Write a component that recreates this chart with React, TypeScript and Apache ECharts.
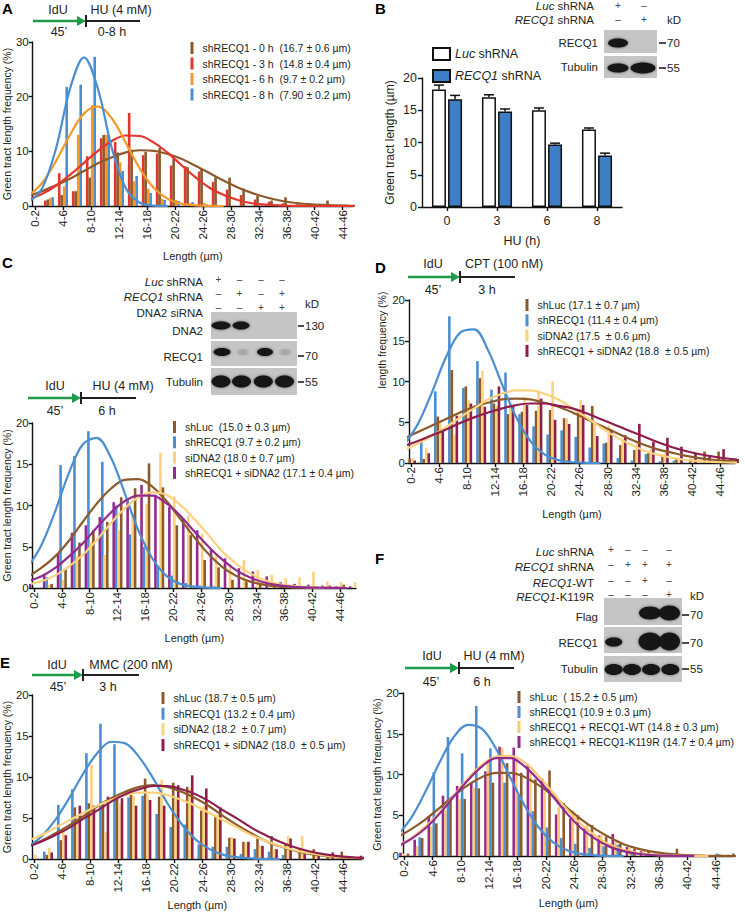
import React, { useEffect, useRef } from 'react';
import * as echarts from 'echarts';

const FONT = '"Liberation Sans", Arial, Helvetica, sans-serif';
const INK = '#231f20';
const BROWN = '#8c5a2b';
const RED = '#e2372d';
const ORANGE = '#f49a2c';
const BLUE = '#4b8fd1';
const PALE = '#fcd27f';
const PALE_F = '#fbc878';
const PURPLE = '#922b8f';
const MAROON = '#8d1e4e';
const GREEN = '#1e9a4b';
const BLOT = '#c5c5c5';

// ---------- shared histogram bins ----------
const binLabels = ['0-2', '2-4', '4-6', '6-8', '8-10', '10-12', '12-14', '14-16', '16-18', '18-20', '20-22', '22-24',
  '24-26', '26-28', '28-30', '30-32', '32-34', '34-36', '36-38', '38-40', '40-42', '42-44', '44-46', '46-48'];
const binCenters = [1, 3, 5, 7, 9, 11, 13, 15, 17, 19, 21, 23, 25, 27, 29, 31, 33, 35, 37, 39, 41, 43, 45, 47];
const labelledBins = [1, 5, 9, 13, 17, 21, 25, 29, 33, 37, 41, 45];
const fitX = [0, 2, 4, 6, 8, 10, 12, 14, 16, 18, 20, 22, 24, 26, 28, 30, 32, 34, 36, 38, 40, 42, 44, 46, 48];

// ---------- Panel A ----------
const aNames = ['shRECQ1 - 0 h  (16.7 ± 0.6 µm)', 'shRECQ1 - 3 h  (14.8 ± 0.4 µm)', 'shRECQ1 - 6 h  (9.7 ± 0.2 µm)', 'shRECQ1 - 8 h  (7.90 ± 0.2 µm)'];
const a0h = [0, 1.2, 2.0, 2.7, 5.2, 13.0, 9.8, 10.3, 9.9, 10.6, 9.0, 7.1, 6.8, 5.4, 5.2, 3.2, 1.9, 1.0, 1.6, 0.3, 0.2, 1.0, 0, 0];
const a3h = [0, 1.0, 6.0, 2.7, 9.1, 12.4, 11.7, 17.0, 9.3, 9.6, 7.4, 7.3, 6.3, 4.4, 3.0, 2.0, 1.2, 0.8, 0.5, 0.3, 0, 0, 0, 0];
const a6h = [0, 1.5, 3.6, 13.0, 18.5, 13.0, 8.0, 4.5, 3.2, 1.3, 1.1, 0.5, 0.6, 0.2, 0, 0, 0, 0, 0, 0, 0, 0, 0, 0];
const a8h = [0, 1.6, 21.8, 22.2, 27.3, 13.0, 6.4, 5.5, 2.4, 1.1, 0.9, 0.7, 0.3, 0, 0, 0, 0, 0, 0, 0, 0, 0, 0, 0];
const a0hFit = [1.8, 2.7, 3.8, 5.0, 6.4, 7.8, 8.9, 9.8, 10.2, 10.1, 9.5, 8.6, 7.3, 6.0, 4.6, 3.4, 2.4, 1.6, 1.0, 0.6, 0.36, 0.2, 0.1, 0.05, 0.02];
const a3hFit = [1.2, 2.2, 3.7, 5.7, 7.9, 10.1, 11.9, 12.9, 12.8, 11.6, 9.7, 7.4, 5.2, 3.3, 2.0, 1.1, 0.5, 0.25, 0.1, 0.04, 0.01, 0, 0, 0, 0];
const a6hFit = [1.8, 4.2, 8.2, 13.0, 16.9, 18.2, 16.0, 11.5, 6.8, 3.3, 1.3, 0.4, 0.12, 0.03, 0];
const a8hFit = [0.6, 3.2, 10.5, 21.4, 27.2, 21.4, 10.5, 3.2, 0.6, 0.07, 0];

// ---------- Panel B ----------
const bHours = ['0', '3', '6', '8'];
const bLuc = [18.2, 17.0, 15.0, 12.0];
const bLucErr = [0.7, 0.4, 0.35, 0.25];
const bRecq = [16.7, 14.8, 9.7, 8.0];
const bRecqErr = [0.6, 0.4, 0.2, 0.35];

// ---------- Panel C ----------
const cNames = ['shLuc  (15.0 ± 0.3 µm)', 'shRECQ1 (9.7 ± 0.2 µm)', 'siDNA2 (18.0 ± 0.7 µm)', 'shRECQ1 + siDNA2 (17.1 ± 0.4 µm)'];
const cLuc = [0, 0.5, 2.3, 5.5, 7.0, 8.0, 11.0, 12.1, 15.1, 12.2, 7.6, 6.4, 3.4, 2.5, 1.0, 0.8, 0.6, 0.3, 0.4, 0.2, 0.1, 0.3, 0.4, 0];
const cRecq = [0, 1.3, 14.9, 16.0, 19.0, 15.3, 10.0, 6.5, 5.0, 2.7, 1.5, 0.6, 0.3, 0.2, 0, 0, 0.1, 0, 0, 0, 0, 0, 0, 0];
const cDna2 = [0, 0.4, 1.0, 3.9, 5.6, 4.0, 7.0, 9.0, 10.2, 16.4, 11.1, 8.8, 6.6, 4.2, 2.9, 3.4, 2.2, 1.6, 1.2, 1.3, 2.0, 0.8, 0.7, 0.7];
const cBoth = [0.5, 1.6, 4.2, 6.7, 7.6, 8.6, 10.4, 10.6, 12.5, 11.3, 9.8, 8.4, 7.0, 4.6, 3.6, 2.4, 2.0, 1.4, 0.7, 0.5, 0.4, 0.3, 0.2, 0.2];
const cLucFit = [1.3, 2.4, 3.8, 5.7, 8.0, 10.2, 12.0, 13.1, 13.2, 12.3, 10.6, 8.4, 6.2, 4.2, 2.6, 1.5, 0.8, 0.4, 0.18, 0.08, 0.03, 0.01, 0];
const cRecqFit = [2.4, 5.1, 9.2, 13.9, 17.4, 18.2, 15.9, 11.6, 7.0, 3.6, 1.5, 0.5, 0.16, 0.04, 0];
const cDna2Fit = [0.4, 0.8, 1.5, 2.6, 4.0, 5.8, 7.8, 9.6, 11.0, 11.6, 11.3, 10.1, 8.4, 6.5, 4.5, 3.0, 1.8, 1.0, 0.5, 0.25, 0.11, 0.04, 0.02, 0.01];
const cBothFit = [0.8, 1.4, 2.4, 3.8, 5.4, 7.3, 9.1, 10.5, 11.2, 11.2, 10.3, 8.8, 6.9, 5.1, 3.5, 2.2, 1.3, 0.7, 0.35, 0.17, 0.07, 0.03, 0.01, 0];

// ---------- Panel D ----------
const dNames = ['shLuc (17.1 ± 0.7 µm)', 'shRECQ1 (11.4 ± 0.4 µm)', 'siDNA2 (17.5  ± 0.6 µm)', 'shRECQ1 + siDNA2 (18.8  ± 0.5 µm)'];
const dLuc = [0.5, 0.5, 5.7, 11.4, 9.4, 10.4, 7.3, 6.0, 6.3, 6.4, 6.5, 5.5, 6.4, 7.0, 2.5, 2.2, 1.6, 1.2, 1.0, 0.6, 0.5, 1.4, 1.4, 0.3];
const dRecq = [0, 2.6, 8.8, 18.0, 9.2, 12.5, 9.0, 11.1, 6.0, 4.5, 3.5, 4.0, 3.2, 1.9, 2.4, 0.6, 0.3, 1.1, 0.2, 0.3, 0, 0, 0, 0];
const dDna2 = [0.6, 1.8, 5.0, 3.5, 7.7, 11.3, 7.0, 7.5, 8.1, 8.9, 10.0, 5.5, 7.7, 5.0, 4.6, 3.0, 2.6, 1.7, 1.2, 0.5, 0.4, 0.3, 0.2, 0.6];
const dBoth = [0.3, 1.2, 4.0, 5.8, 7.3, 6.9, 9.4, 7.0, 7.1, 7.9, 5.3, 4.8, 7.1, 3.3, 4.1, 3.4, 4.8, 2.6, 3.1, 2.0, 1.2, 0.8, 1.7, 0.5];
const dLucFit = [3.0, 3.8, 4.6, 5.4, 6.2, 6.9, 7.4, 7.8, 7.9, 7.8, 7.4, 6.9, 6.2, 5.4, 4.6, 3.8, 3.0, 2.3, 1.7, 1.3, 0.9, 0.6, 0.4, 0.26, 0.17];
const dRecqFit = [2.2, 4.8, 8.7, 13.0, 16.0, 16.4, 13.8, 9.6, 5.6, 2.7, 1.05, 0.35, 0.09, 0.02, 0];
const dDna2Fit = [1.6, 2.4, 3.3, 4.4, 5.6, 6.7, 7.8, 8.5, 8.9, 8.9, 8.5, 7.8, 6.7, 5.6, 4.4, 3.3, 2.4, 1.6, 1.06, 0.67, 0.4, 0.22, 0.12, 0.06, 0.03];
const dBothFit = [2.1, 2.7, 3.4, 4.1, 4.9, 5.6, 6.2, 6.7, 7.1, 7.3, 7.3, 7.0, 6.7, 6.1, 5.4, 4.7, 4.0, 3.3, 2.6, 2.0, 1.5, 1.1, 0.8, 0.55, 0.38];

// ---------- Panel E ----------
const eNames = ['shLuc (18.7 ± 0.5 µm)', 'shRECQ1 (13.2 ± 0.4 µm)', 'siDNA2 (18.2  ± 0.7 µm)', 'shRECQ1 + siDNA2 (18.0  ± 0.5 µm)'];
const eLuc = [0, 0.5, 2.3, 6.3, 6.8, 7.0, 7.3, 7.8, 9.8, 7.6, 9.3, 8.8, 5.9, 5.1, 2.6, 2.1, 2.7, 2.8, 1.9, 1.3, 1.2, 0.5, 0.9, 0.2];
const eRecq = [0, 0.9, 6.6, 8.5, 12.9, 16.5, 14.0, 7.5, 7.7, 5.5, 3.9, 4.2, 1.8, 1.5, 1.5, 0.6, 1.2, 0.9, 0.5, 0, 0, 0, 0, 0];
const eDna2 = [0.5, 1.4, 3.8, 5.0, 11.5, 3.3, 6.8, 7.7, 7.8, 9.7, 7.5, 8.6, 6.5, 5.5, 2.7, 2.0, 1.6, 1.2, 2.8, 2.8, 0.8, 0.4, 0.3, 0.2];
const eBoth = [0, 0.8, 2.9, 6.5, 6.5, 7.6, 7.4, 6.5, 7.2, 6.5, 9.0, 10.2, 8.6, 6.3, 2.5, 2.1, 1.6, 1.2, 2.5, 0.6, 0.4, 0.8, 0.2, 0.4];
const eLucFit = [1.55, 2.2, 3.1, 4.1, 5.2, 6.4, 7.4, 8.2, 8.8, 9.0, 8.8, 8.2, 7.4, 6.4, 5.2, 4.1, 3.1, 2.2, 1.55, 1.04, 0.66, 0.4, 0.23, 0.13, 0.07];
const eRecqFit = [1.4, 2.7, 4.7, 7.4, 10.4, 12.9, 14.3, 14.1, 12.4, 9.8, 6.8, 4.3, 2.4, 1.2, 0.5, 0.2, 0.07, 0.02, 0];
const eDna2Fit = [2.2, 2.9, 3.8, 4.7, 5.6, 6.5, 7.2, 7.8, 8.1, 8.1, 7.8, 7.2, 6.5, 5.6, 4.7, 3.8, 2.9, 2.2, 1.6, 1.1, 0.74, 0.48, 0.3, 0.18, 0.1];
const eBothFit = [1.46, 2.1, 2.9, 3.8, 4.9, 5.9, 7.0, 7.9, 8.5, 8.9, 8.9, 8.5, 7.9, 7.0, 5.9, 4.9, 3.8, 2.9, 2.1, 1.46, 0.98, 0.63, 0.39, 0.23, 0.13];

// ---------- Panel F ----------
const fNames = ['shLuc  ( 15.2 ± 0.5 µm)', 'shRECQ1 (10.9 ± 0.3 µm)', 'shRECQ1 + RECQ1-WT (14.8 ± 0.3 µm)', 'shRECQ1 + RECQ1-K119R (14.7 ± 0.4 µm)'];
const fLuc = [0.3, 2.2, 4.0, 6.8, 7.0, 8.3, 9.0, 11.4, 10.2, 9.4, 10.5, 6.5, 5.0, 3.8, 2.4, 1.5, 0.9, 0.6, 0.4, 0.9, 0.2, 0.1, 0.2, 0.3];
const fRecq = [0, 2.3, 10.3, 14.6, 12.6, 18.4, 13.2, 9.0, 7.5, 5.5, 3.5, 2.2, 1.5, 1.0, 1.2, 1.4, 0.4, 0.2, 0, 0, 0, 0, 0.3, 0];
const fWt = [0.3, 1.2, 3.6, 5.6, 7.0, 8.4, 11.5, 13.3, 12.0, 10.4, 7.9, 6.0, 5.6, 3.9, 2.6, 1.7, 1.0, 0.8, 0.3, 0.2, 0, 0.2, 0, 0];
const fK119R = [0.4, 2.0, 4.9, 7.4, 8.6, 9.0, 10.4, 13.4, 13.3, 11.2, 9.5, 5.1, 4.6, 3.4, 2.5, 2.7, 1.1, 0.6, 0.3, 0.2, 0, 0, 0, 0];
const fLucFit = [2.3, 3.3, 4.5, 5.9, 7.4, 8.7, 9.7, 10.2, 10.2, 9.7, 8.7, 7.4, 5.9, 4.5, 3.3, 2.3, 1.45, 0.9, 0.53, 0.29, 0.15, 0.07, 0.03, 0.01, 0];
const fRecqFit = [2.5, 4.7, 7.9, 11.5, 14.6, 16.1, 15.6, 13.1, 9.6, 6.2, 3.5, 1.7, 0.7, 0.26, 0.08, 0.02, 0];
const fWtFit = [1.25, 2.2, 3.6, 5.3, 7.4, 9.5, 11.2, 12.2, 12.3, 11.5, 9.8, 7.8, 5.7, 3.9, 2.5, 1.4, 0.75, 0.37, 0.17, 0.07, 0.03, 0.01, 0];
const fK119RFit = [1.15, 2.1, 3.4, 5.2, 7.3, 9.3, 11.0, 12.0, 12.0, 11.0, 9.3, 7.3, 5.2, 3.4, 2.1, 1.15, 0.6, 0.28, 0.12, 0.05, 0.02, 0];

type Hist = {
  left: number; top: number; width: number; height: number;
  xMin: number; xMax: number; yMax: number; yStep: number;
  yTitle: string; yGap: number; xGap: number;
  names: string[]; colors: string[]; bars: number[][]; fits: number[][]; order: number[];
  legLeft: number; legTop: number; legGap: number;
};

const YT = 'Green tract length frequency (%)';

const hists: Hist[] = [
  { left: 31, top: 42, width: 322, height: 164, xMin: 0.67, xMax: 46.47, yMax: 30, yStep: 10, yTitle: YT, yGap: 18.5, xGap: 44,
    names: aNames, colors: [BROWN, RED, ORANGE, BLUE], bars: [a0h, a3h, a6h, a8h], fits: [a0hFit, a3hFit, a6hFit, a8hFit],
    order: [1, 0, 2, 3], legLeft: 190.5, legTop: 42, legGap: 3.5 },
  { left: 31, top: 423, width: 325, height: 165, xMin: 0.81, xMax: 47.3, yMax: 20, yStep: 5, yTitle: YT, yGap: 18.5, xGap: 44,
    names: cNames, colors: [BROWN, BLUE, PALE, PURPLE], bars: [cLuc, cRecq, cDna2, cBoth], fits: [cLucFit, cRecqFit, cDna2Fit, cBothFit],
    order: [3, 1, 2, 0], legLeft: 173, legTop: 421, legGap: 3.3 },
  { left: 409, top: 300, width: 326, height: 163, xMin: 0.72, xMax: 47.16, yMax: 20, yStep: 5, yTitle: '', yGap: 18, xGap: 45,
    names: dNames, colors: [BROWN, BLUE, PALE, MAROON], bars: [dLuc, dRecq, dDna2, dBoth], fits: [dLucFit, dRecqFit, dDna2Fit, dBothFit],
    order: [1, 0, 2, 3], legLeft: 525.5, legTop: 299, legGap: 3.3 },
  { left: 31, top: 695, width: 331, height: 164, xMin: 0.82, xMax: 47.7, yMax: 20, yStep: 5, yTitle: YT, yGap: 17.5, xGap: 40,
    names: eNames, colors: [BROWN, BLUE, PALE, MAROON], bars: [eLuc, eRecq, eDna2, eBoth], fits: [eLucFit, eRecqFit, eDna2Fit, eBothFit],
    order: [1, 0, 2, 3], legLeft: 161.5, legTop: 692, legGap: 3.7 },
  { left: 403, top: 693, width: 331, height: 163, xMin: 0.82, xMax: 47.6, yMax: 20, yStep: 5, yTitle: YT, yGap: 16.5, xGap: 41,
    names: fNames, colors: [BROWN, BLUE, PALE_F, PURPLE], bars: [fLuc, fRecq, fWt, fK119R], fits: [fLucFit, fRecqFit, fWtFit, fK119RFit],
    order: [3, 2, 1, 0], legLeft: 517.5, legTop: 691, legGap: 3 },
];

// ---------- graphic helpers ----------
function txt(x: number, y: number, text: string, o: any = {}) {
  const size = o.size ?? 11.5;
  return {
    type: 'text', x, y, rotation: o.rot ?? 0, silent: true, z: 10,
    style: {
      text, fontSize: size, fontFamily: FONT, fill: o.color ?? INK,
      fontWeight: o.weight ?? 'normal', fontStyle: o.italic ? 'italic' : 'normal',
      align: o.align ?? 'center', verticalAlign: o.va ?? 'middle',
      rich: { i: { fontStyle: 'italic', fontSize: size, fontFamily: FONT, fill: o.color ?? INK } },
    },
  };
}
function ln(x1: number, y1: number, x2: number, y2: number, stroke = INK, w = 1.6) {
  return { type: 'line', silent: true, z: 10, shape: { x1, y1, x2, y2 }, style: { stroke, lineWidth: w } };
}
function box(x: number, y: number, width: number, height: number, fill = BLOT) {
  return { type: 'rect', silent: true, z: 9, shape: { x, y, width, height }, style: { fill } };
}
function band(cx: number, cy: number, rx: number, ry: number, fill = '#151515') {
  return { type: 'ellipse', silent: true, z: 10, shape: { cx, cy, rx, ry }, style: { fill, shadowBlur: 3, shadowColor: 'rgba(0,0,0,0.55)' } };
}
function timeline(x0: number, xm: number, x1: number, y: number, texts: [number, number, string][]) {
  const els: any[] = [
    ln(x0, y, xm - 7, y, GREEN, 2.3),
    { type: 'polygon', silent: true, z: 10, shape: { points: [[xm - 9, y - 5], [xm, y], [xm - 9, y + 5]] }, style: { fill: GREEN } },
    ln(xm, y - 6, xm, y + 6, INK, 2),
    ln(xm, y, x1, y, INK, 2),
  ];
  texts.forEach(([x, yy, t]) => els.push(txt(x, yy, t, { size: 12.5 })));
  return els;
}
function signs(xs: number[], y: number, s: string) {
  return xs.map((x, i) => txt(x, y, s[i] === '+' ? '+' : '–', { size: 10, color: '#444' }));
}

function buildGraphics() {
  const g: any[] = [];
  // panel letters
  [['A', 2, 1], ['B', 375, 1], ['C', 2, 255], ['D', 375, 260], ['E', 0, 655], ['F', 375, 551]].forEach(([t, x, y]) =>
    g.push(txt(x as number, y as number, t as string, { size: 15, weight: 'bold', align: 'left', va: 'top', color: '#000' })));

  // timelines
  g.push(...timeline(33, 86, 140, 21, [[58, 10, 'IdU'], [121, 10, 'HU (4 mM)'], [59, 32, '45’'], [112, 32, '0-8 h']]));
  g.push(...timeline(28, 81, 136, 398, [[55, 386, 'IdU'], [123, 386, 'HU (4 mM)'], [55, 411, '45’'], [107, 411, '6 h']]));
  g.push(...timeline(408, 460, 515, 277, [[433, 264, 'IdU'], [504, 264, 'CPT (100 nM)'], [433, 290, '45’'], [487, 290, '3 h']]));
  g.push(...timeline(32, 83, 139, 675, [[57, 665, 'IdU'], [131, 665, 'MMC (200 nM)'], [58, 687, '45’'], [108, 687, '3 h']]));
  g.push(...timeline(405, 459, 514, 668, [[432, 656, 'IdU'], [494, 656, 'HU (4 mM)'], [431, 682, '45’'], [482, 682, '6 h']]));

  // D y title (partly hidden in the original)
  g.push(txt(382, 340, 'length frequency (%)', { size: 10.5, rot: Math.PI / 2 }));

  // ---- Blot B ----
  g.push(txt(594, 6, '{i|Luc} shRNA', { align: 'right' }));
  g.push(txt(594, 20, '{i|RECQ1} shRNA', { align: 'right' }));
  g.push(...signs([618, 644], 5, '+-'), ...signs([618, 644], 19, '-+'));
  g.push(txt(674, 20, 'kD'));
  g.push(box(604, 30, 53, 23), box(604, 56, 53, 22));
  g.push(band(618, 43, 10, 4.6), band(618, 68, 10.5, 4.6), band(643, 68, 12.5, 5.5));
  g.push(ln(659, 43, 666, 43), ln(659, 68, 666, 68));
  g.push(txt(667, 43, '70', { align: 'left' }), txt(667, 68, '55', { align: 'left' }));
  g.push(txt(598, 43, 'RECQ1', { align: 'right' }), txt(598, 67, 'Tubulin', { align: 'right' }));

  // ---- Blot C ----
  const cLanes = [218.5, 239.5, 261, 282];
  g.push(txt(203, 282, '{i|Luc} shRNA', { align: 'right' }));
  g.push(txt(203, 297, '{i|RECQ1} shRNA', { align: 'right' }));
  g.push(txt(203, 313, 'DNA2 siRNA', { align: 'right' }));
  g.push(...signs(cLanes, 279, '+---'), ...signs(cLanes, 293, '-+-+'), ...signs(cLanes, 307, '--++'));
  g.push(txt(312, 304, 'kD'));
  g.push(box(211, 312, 86, 27), box(211, 341, 86, 25), box(211, 368, 86, 27));
  g.push(band(221, 325.5, 9.5, 4), band(241, 325.5, 8.5, 4));
  g.push(band(222, 352, 8.5, 4), band(265, 352, 8, 4), band(243, 352, 5, 1.6, '#a9a9a9'), band(285, 352, 5, 1.6, '#a9a9a9'));
  g.push(band(221, 381.5, 9.5, 6), band(241.5, 381.5, 9.5, 6), band(263.3, 381.5, 9.5, 6), band(284.5, 381.5, 9.5, 6));
  g.push(ln(298, 326, 304, 326), ln(298, 356, 304, 356), ln(298, 382, 304, 382));
  g.push(txt(305, 326, '130', { align: 'left' }), txt(305, 356, '70', { align: 'left' }), txt(305, 382, '55', { align: 'left' }));
  g.push(txt(203, 331, 'DNA2', { align: 'right' }), txt(203, 357, 'RECQ1', { align: 'right' }), txt(203, 382, 'Tubulin', { align: 'right' }));

  // ---- Blot F ----
  const fLanes = [611, 628, 645, 669];
  g.push(txt(594, 552, '{i|Luc} shRNA', { align: 'right' }));
  g.push(txt(594, 567, '{i|RECQ1} shRNA', { align: 'right' }));
  g.push(txt(594, 583, '{i|RECQ1}-WT', { align: 'right' }));
  g.push(txt(594, 597, '{i|RECQ1}-K119R', { align: 'right' }));
  g.push(...signs(fLanes, 549, '+---'), ...signs(fLanes, 564, '-+++'), ...signs(fLanes, 580, '--+-'), ...signs(fLanes, 594, '---+'));
  g.push(txt(697, 596, 'kD'));
  g.push(box(604, 598, 78, 27), box(604, 627, 78, 26), box(604, 656, 78, 26));
  g.push(band(650, 613, 11, 6.5), band(669.5, 613, 10.5, 7.5));
  g.push(band(613.7, 642, 8.5, 4.5), band(650, 641.5, 11.5, 9), band(669.5, 641.5, 10.5, 9));
  g.push(band(613.7, 669.5, 9, 5.5), band(632, 669.5, 9, 5.5), band(651, 669.5, 9, 5.5), band(670.3, 669.5, 9, 5.5));
  g.push(ln(682, 615, 689, 615), ln(682, 643, 689, 643), ln(682, 669, 689, 669));
  g.push(txt(690, 615, '70', { align: 'left' }), txt(690, 643, '70', { align: 'left' }), txt(690, 669, '55', { align: 'left' }));
  g.push(txt(598, 617, 'Flag', { align: 'right' }), txt(598, 643, 'RECQ1', { align: 'right' }), txt(598, 669, 'Tubulin', { align: 'right' }));
  return g;
}

function buildOption() {
  const grid: any[] = [];
  const xAxis: any[] = [];
  const yAxis: any[] = [];
  const series: any[] = [];
  const legend: any[] = [];
  const axisLine = { color: '#111', width: 1.4 };
  const lab = (size: number) => ({ fontSize: size, fontFamily: FONT, color: INK });

  hists.forEach((p) => {
    const gi = grid.length;
    grid.push({ left: p.left, top: p.top, width: p.width, height: p.height });
    xAxis.push({
      gridIndex: gi, type: 'value', min: p.xMin, max: p.xMax,
      axisLine: { show: true, onZero: false, lineStyle: axisLine },
      splitLine: { show: false },
      axisTick: { show: true, length: 4, customValues: labelledBins, lineStyle: axisLine },
      axisLabel: {
        ...lab(11.5), rotate: 90, margin: 4, customValues: labelledBins,
        formatter: (v: number) => binLabels[Math.round((v - 1) / 2)],
      },
      name: 'Length (µm)', nameLocation: 'middle', nameGap: p.xGap, nameTextStyle: lab(11),
    });
    yAxis.push({
      gridIndex: gi, type: 'value', min: 0, max: p.yMax, interval: p.yStep,
      axisLine: { show: true, lineStyle: axisLine },
      axisTick: { show: true, length: 4, lineStyle: axisLine },
      axisLabel: { ...lab(11.5), margin: 4 },
      splitLine: { show: false },
      name: p.yTitle, nameLocation: 'middle', nameGap: p.yGap, nameTextStyle: lab(10.5),
    });
    p.order.forEach((i) => series.push({
      type: 'bar', name: p.names[i], xAxisIndex: gi, yAxisIndex: gi,
      barWidth: 2.6, barGap: '-4%', silent: true, z: 2,
      data: p.bars[i].map((v, k) => [binCenters[k], v]),
      itemStyle: { color: p.colors[i] },
    }));
    p.names.forEach((n, i) => series.push({
      type: 'line', name: n + ' fit', xAxisIndex: gi, yAxisIndex: gi,
      data: p.fits[i].map((v, k) => [fitX[k], v]),
      smooth: 0.35, symbol: 'none', showSymbol: false, silent: true, z: 4,
      lineStyle: { color: p.colors[i], width: 2.2 }, itemStyle: { color: p.colors[i] },
    }));
    legend.push({
      left: p.legLeft, top: p.legTop, orient: 'vertical', padding: 0,
      itemWidth: 3, itemHeight: 12, itemGap: p.legGap, icon: 'rect', selectedMode: false,
      data: p.names,
      textStyle: { ...lab(10.5), lineHeight: 12, padding: [0, 0, 0, 4] },
    });
  });

  // ---- Panel B ----
  const bi = grid.length;
  const BW = 14;
  const GAP = 0.15;
  const OFF = (BW + BW * GAP) / 2;
  grid.push({ left: 422, top: 78, width: 200, height: 129 });
  xAxis.push({
    gridIndex: bi, type: 'category', data: bHours,
    axisLine: { show: true, lineStyle: axisLine },
    axisTick: { show: true, alignWithLabel: true, length: 4, lineStyle: axisLine },
    axisLabel: { ...lab(12.5), margin: 7 },
    name: 'HU (h)', nameLocation: 'middle', nameGap: 27, nameTextStyle: lab(12.5),
  });
  yAxis.push({
    gridIndex: bi, type: 'value', min: 0, max: 20, interval: 5,
    axisLine: { show: true, lineStyle: axisLine },
    axisTick: { show: true, length: 4, lineStyle: axisLine },
    axisLabel: { ...lab(12.5), margin: 5 },
    splitLine: { show: false },
    name: 'Green tract length (µm)', nameLocation: 'middle', nameGap: 26, nameTextStyle: lab(12),
  });
  series.push({
    type: 'bar', name: 'Luc shRNA', xAxisIndex: bi, yAxisIndex: bi, barWidth: BW, barGap: GAP * 100 + '%', data: bLuc,
    itemStyle: { color: '#ffffff', borderColor: '#111', borderWidth: 1.5 }, silent: true,
  });
  series.push({
    type: 'bar', name: 'RECQ1 shRNA', xAxisIndex: bi, yAxisIndex: bi, barWidth: BW, barGap: GAP * 100 + '%', data: bRecq,
    itemStyle: { color: '#3e7ec7', borderColor: '#111', borderWidth: 1.5 }, silent: true,
  });
  const errSeries = (vals: number[], errs: number[], side: number) => ({
    type: 'custom', xAxisIndex: bi, yAxisIndex: bi, z: 5, silent: true,
    data: vals.map((v, k) => [k, v, errs[k]]),
    renderItem: (_p: any, api: any) => {
      const k = api.value(0);
      const v = api.value(1);
      const e = api.value(2);
      const base = api.coord([k, v]);
      const top = api.coord([k, v + e]);
      const x = base[0] + side * OFF;
      return {
        type: 'group', children: [
          { type: 'line', shape: { x1: x, y1: base[1], x2: x, y2: top[1] }, style: { stroke: '#111', lineWidth: 1.5 } },
          { type: 'line', shape: { x1: x - 5, y1: top[1], x2: x + 5, y2: top[1] }, style: { stroke: '#111', lineWidth: 1.5 } },
        ],
      };
    },
  });
  series.push(errSeries(bLuc, bLucErr, -1), errSeries(bRecq, bRecqErr, 1));
  legend.push({
    left: 432, top: 47, orient: 'vertical', padding: 0, itemWidth: 17, itemHeight: 12, itemGap: 8,
    icon: 'rect', selectedMode: false, data: ['Luc shRNA', 'RECQ1 shRNA'],
    formatter: (n: string) => (n === 'Luc shRNA' ? '{i|Luc} shRNA' : '{i|RECQ1} shRNA'),
    textStyle: { ...lab(12.5), rich: { i: { fontStyle: 'italic', fontSize: 12.5, fontFamily: FONT, color: INK } } },
  });

  return {
    animation: false,
    backgroundColor: '#ffffff',
    textStyle: { fontFamily: FONT },
    grid, xAxis, yAxis, series, legend,
    graphic: { elements: buildGraphics() },
  };
}

export default function App() {
  const ref = useRef<HTMLDivElement>(null);
  useEffect(() => {
    document.body.style.margin = '0';
    const chart = echarts.init(ref.current as HTMLDivElement, null, { renderer: 'svg' });
    chart.setOption(buildOption() as any);
    return () => chart.dispose();
  }, []);
  return <div ref={ref} style={{ width: 745, height: 915, background: '#fff' }} />;
}
